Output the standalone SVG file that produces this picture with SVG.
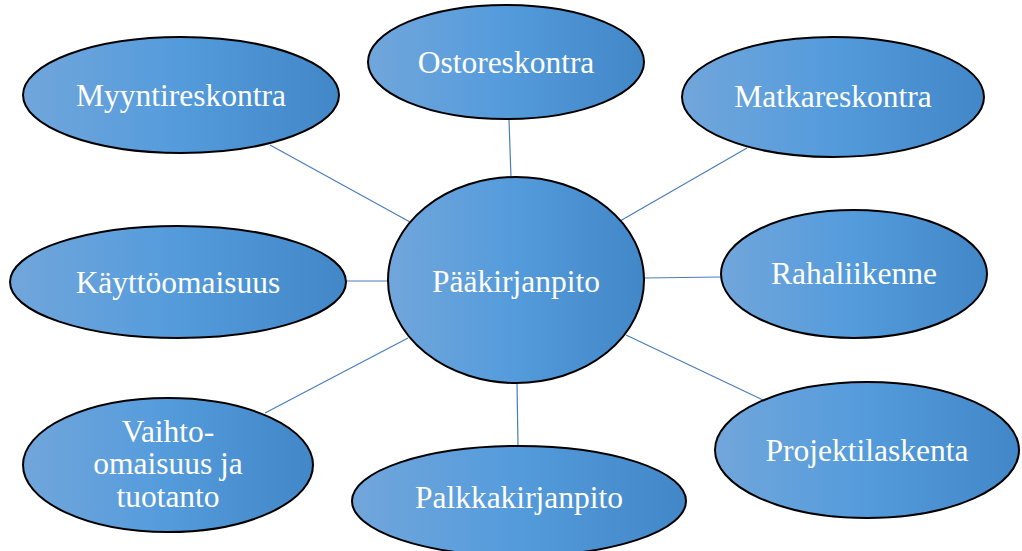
<svg xmlns="http://www.w3.org/2000/svg" width="1022" height="551" viewBox="0 0 1022 551">
  <style>
    .node { fill: url(#blueFill); stroke: #000; stroke-width: 2; }
    .label { font-size: 31.5px; fill: #fff; text-anchor: middle; }
    .link { stroke: #4a7ebb; stroke-width: 1.2; fill: none; }
  </style>
  <defs>
    <linearGradient id="blueFill" x1="0" y1="0" x2="1" y2="0">
      <stop offset="0" stop-color="#71a6db"/>
      <stop offset="0.5" stop-color="#549bdc"/>
      <stop offset="1" stop-color="#4287c7"/>
    </linearGradient>
  </defs>
  <rect width="1022" height="551" fill="#fff"/>

  <!-- connectors from the general ledger to each sub-ledger -->
  <g id="connectors">
    <line class="link" x1="270" y1="145" x2="410" y2="222"/>
    <line class="link" x1="509" y1="120" x2="511" y2="178"/>
    <line class="link" x1="747" y1="148" x2="620" y2="221"/>
    <line class="link" x1="721" y1="277" x2="643" y2="278"/>
    <line class="link" x1="346" y1="281" x2="388" y2="281"/>
    <line class="link" x1="265" y1="413" x2="408" y2="338"/>
    <line class="link" x1="517" y1="383" x2="518" y2="446"/>
    <line class="link" x1="626" y1="335" x2="763" y2="400"/>
  </g>

  <g font-family="Liberation Serif, DejaVu Serif, serif">
  <g id="myyntireskontra">
    <ellipse class="node" cx="181" cy="95" rx="158" ry="58"/>
    <text class="label" x="181" y="106">Myyntireskontra</text>
  </g>
  <g id="ostoreskontra">
    <ellipse class="node" cx="506" cy="62" rx="138" ry="57"/>
    <text class="label" x="506" y="73">Ostoreskontra</text>
  </g>
  <g id="matkareskontra">
    <ellipse class="node" cx="833" cy="97" rx="151" ry="60"/>
    <text class="label" x="833" y="107">Matkareskontra</text>
  </g>
  <g id="rahaliikenne">
    <ellipse class="node" cx="854" cy="274" rx="133" ry="64"/>
    <text class="label" x="854" y="284">Rahaliikenne</text>
  </g>
  <g id="paakirjanpito">
    <ellipse class="node" cx="516" cy="280" rx="128" ry="103"/>
    <text class="label" x="516" y="292">Pääkirjanpito</text>
  </g>
  <g id="kayttoomaisuus">
    <ellipse class="node" cx="178" cy="282" rx="168" ry="56"/>
    <text class="label" x="178" y="293">Käyttöomaisuus</text>
  </g>
  <g id="vaihto-omaisuus">
    <ellipse class="node" cx="168" cy="465" rx="145" ry="67"/>
    <text class="label" x="168" y="442">Vaihto-</text>
    <text class="label" x="168" y="474">omaisuus ja</text>
    <text class="label" x="168" y="507">tuotanto</text>
  </g>
  <g id="palkkakirjanpito">
    <ellipse class="node" cx="519" cy="501" rx="167" ry="55"/>
    <text class="label" x="519" y="508">Palkkakirjanpito</text>
  </g>
  <g id="projektilaskenta">
    <ellipse class="node" cx="867" cy="450" rx="152" ry="68"/>
    <text class="label" x="867" y="461">Projektilaskenta</text>
  </g>
  </g>
</svg>
